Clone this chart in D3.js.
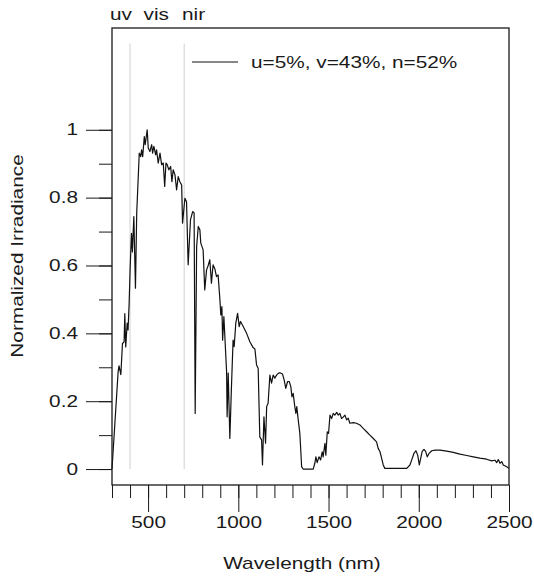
<!DOCTYPE html>
<html>
<head>
<meta charset="utf-8">
<script src="https://cdn.jsdelivr.net/npm/d3@7/dist/d3.min.js"></script>
<style>
  body { margin: 0; background: #fff; }
  text { font-family: "Liberation Sans", Arial, sans-serif; font-size: 16px; fill: #1a1a1a; }
</style>
</head>
<body>
<svg width="534" height="579"></svg>
<script>
// spectrum (nm, normalized)
const wavelength = [300, 334, 339, 349, 358, 367, 371, 376, 384, 389, 395, 401, 408, 413, 421, 430, 437,
  451, 459, 464, 470, 479, 484, 495, 501, 510, 520, 525, 532, 542, 547, 556, 566, 575, 584, 592, 599,
  606, 615, 625, 632, 639, 649, 658, 667, 676, 686, 691, 704, 713, 722, 735, 747, 755, 761, 769, 778,
  787, 792, 805, 814, 824, 833, 842, 851, 860, 870, 879, 888, 898, 903, 909, 913, 920, 935, 938, 944,
  953, 962, 971, 977, 986, 996, 1005, 1012, 1027, 1046, 1064, 1082, 1092, 1101, 1110, 1119, 1129,
  1134, 1142, 1151, 1157, 1165, 1175, 1184, 1193, 1202, 1212, 1221, 1230, 1245, 1254, 1263, 1273,
  1282, 1291, 1297, 1304, 1313, 1319, 1324, 1332, 1341, 1351, 1359, 1415, 1424, 1430, 1437, 1447,
  1456, 1465, 1470, 1480, 1485, 1493, 1500, 1508, 1517, 1526, 1535, 1545, 1554, 1563, 1572, 1581,
  1591, 1600, 1609, 1618, 1637, 1655, 1674, 1692, 1711, 1729, 1748, 1766, 1775, 1785, 1794, 1803,
  1812, 1933, 1951, 1961, 1973, 1984, 1994, 2003, 2011, 2019, 2029, 2038, 2047, 2057, 2072, 2090,
  2118, 2155, 2191, 2228, 2266, 2302, 2339, 2376, 2404, 2422, 2432, 2441, 2450, 2460, 2468, 2487, 2500];
const irradiance = [0, 0.287, 0.304, 0.278, 0.37, 0.375, 0.458, 0.36, 0.43, 0.41, 0.489, 0.6, 0.695,
  0.64, 0.744, 0.533, 0.755, 0.931, 0.921, 0.941, 0.921, 0.98, 0.956, 1.0, 0.946, 0.936, 0.956, 0.931,
  0.951, 0.926, 0.941, 0.902, 0.931, 0.897, 0.902, 0.833, 0.902, 0.897, 0.882, 0.892, 0.847, 0.882,
  0.867, 0.823, 0.862, 0.847, 0.837, 0.725, 0.798, 0.788, 0.602, 0.735, 0.759, 0.755, 0.164, 0.656,
  0.715, 0.705, 0.666, 0.646, 0.528, 0.587, 0.6, 0.617, 0.548, 0.602, 0.59, 0.567, 0.572, 0.499,
  0.454, 0.479, 0.38, 0.449, 0.287, 0.154, 0.283, 0.09, 0.243, 0.38, 0.361, 0.43, 0.459, 0.42, 0.435,
  0.42, 0.4, 0.375, 0.358, 0.354, 0.307, 0.297, 0.095, 0.086, 0.012, 0.154, 0.076, 0.184, 0.194,
  0.277, 0.253, 0.277, 0.268, 0.277, 0.282, 0.284, 0.28, 0.263, 0.238, 0.258, 0.258, 0.243, 0.213,
  0.223, 0.184, 0.164, 0.184, 0.145, 0.105, 0.007, 0, 0, 0.017, 0.036, 0.019, 0.036, 0.027, 0.051,
  0.036, 0.076, 0.041, 0.11, 0.105, 0.159, 0.149, 0.164, 0.159, 0.167, 0.159, 0.164, 0.149, 0.153,
  0.159, 0.145, 0.15, 0.135, 0.137, 0.135, 0.13, 0.12, 0.11, 0.1, 0.09, 0.08, 0.061, 0.051, 0.032,
  0.012, 0.002, 0.002, 0.012, 0.027, 0.046, 0.054, 0.041, 0.012, 0.032, 0.052, 0.058, 0.052, 0.036,
  0.046, 0.054, 0.056, 0.056, 0.053, 0.049, 0.044, 0.04, 0.036, 0.032, 0.029, 0.024, 0.026, 0.019,
  0.028, 0.017, 0.022, 0.012, 0.007, 0.002];

const xMinor = d3.range(300, 2501, 100);
const xMajor = [500, 1000, 1500, 2000, 2500];
const yMinor = [0, 0.1, 0.2, 0.3, 0.4, 0.5, 0.6, 0.7, 0.8, 0.9, 1];
const yMajor = [0, 0.2, 0.4, 0.6, 0.8, 1];
const bandEdges = [400, 700];
const bandNames = ["uv", "vis", "nir"];
const bandCenters = [350, 545, 752];
const legendLabel = "u=5%, v=43%, n=52%";

const svg = d3.select("svg");
const mLeft = 112, mRight = 509, mTop = 28, mBottom = 485;
const stretch = "scale(1.3,1)";   // the original lettering is wide

const x = d3.scaleLinear().domain([300, 2500]).range([mLeft, mRight]);
const y = d3.scaleLinear().domain([-0.047, 1.3]).range([mBottom, mTop]);

// band separators
svg.selectAll("line.band").data(bandEdges).enter().append("line")
  .attr("class", "band")
  .attr("x1", d => x(d)).attr("x2", d => x(d))
  .attr("y1", y(0)).attr("y2", y(1.254))
  .attr("stroke", "#d0d0d0").attr("stroke-width", 1);

// spectrum
const pts = wavelength.map((w, i) => [w, irradiance[i]]);
svg.append("path").datum(pts)
  .attr("fill", "none").attr("stroke", "#111").attr("stroke-width", 1.2)
  .attr("stroke-linejoin", "round")
  .attr("d", d3.line().x(d => x(d[0])).y(d => y(d[1])));

// x axis
const gx = svg.append("g").attr("transform", "translate(0," + mBottom + ")");
gx.append("g").call(d3.axisBottom(x).tickValues(xMinor).tickSize(13).tickFormat(""));
gx.append("g").call(d3.axisBottom(x).tickValues(xMajor).tickSize(27).tickFormat(d3.format("d")))
  .selectAll("text").attr("y", 32).attr("dy", "0.71em").attr("transform", stretch);
gx.selectAll(".domain").remove();

// y axis
const gy = svg.append("g").attr("transform", "translate(" + mLeft + ",0)");
gy.append("g").call(d3.axisLeft(y).tickValues(yMinor).tickSize(13).tickFormat(""));
gy.append("g").call(d3.axisLeft(y).tickValues(yMajor).tickSize(26).tickFormat(d3.format("~g")))
  .selectAll("text").attr("x", 0).attr("transform", "translate(-34,0) " + stretch);
gy.selectAll(".domain").remove();
svg.selectAll(".tick line").attr("stroke", "#1a1a1a");
svg.selectAll(".tick text").style("font-size", "16px").style("font-family", '"Liberation Sans", Arial, sans-serif').attr("fill", "#1a1a1a");

// frame
svg.append("rect").attr("x", mLeft).attr("y", mTop)
  .attr("width", mRight - mLeft).attr("height", mBottom - mTop)
  .attr("fill", "none").attr("stroke", "#1a1a1a").attr("stroke-width", 1.3);

// titles
svg.append("text").attr("transform", "translate(302,569) " + stretch)
  .attr("text-anchor", "middle").text("Wavelength (nm)");
svg.append("text").attr("transform", "translate(23,256) rotate(-90) " + stretch)
  .attr("text-anchor", "middle").text("Normalized Irradiance");

// band names above the frame
svg.selectAll("text.bandname").data(bandNames).enter().append("text")
  .attr("class", "bandname")
  .attr("transform", (d, i) => "translate(" + x(bandCenters[i]) + ",20) " + stretch)
  .attr("text-anchor", "middle").text(d => d);

// legend
svg.append("line").attr("x1", 192).attr("x2", 238).attr("y1", 62).attr("y2", 62)
  .attr("stroke", "#111").attr("stroke-width", 1.2);
svg.append("text").attr("transform", "translate(251,68) " + stretch).text(legendLabel);
</script>
</body>
</html>
